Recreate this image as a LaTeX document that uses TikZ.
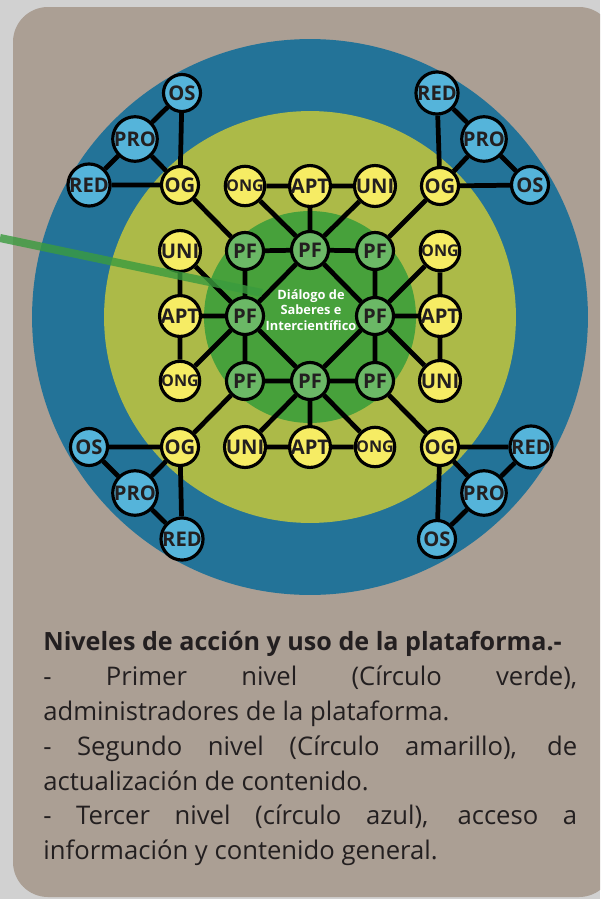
\documentclass[tikz,border=0pt]{standalone}
\usepackage{fontspec}
\setmainfont{Open Sans}
\usepackage{tikz}

\definecolor{pagegray}{HTML}{D1D1D1}
\definecolor{cardbrown}{HTML}{AB9F94}
\definecolor{ringblue}{HTML}{237398}
\definecolor{ringyellow}{HTML}{ACBA48}
\definecolor{ringgreen}{HTML}{47A13B}
\definecolor{pffill}{HTML}{6BB866}
\definecolor{ylwfill}{HTML}{F6EC64}
\definecolor{blufill}{HTML}{55B4DA}
\definecolor{inkdark}{HTML}{231F20}
\definecolor{pointgreen}{HTML}{3A9B3E}

\begin{document}
\begin{tikzpicture}[x=0.02cm, y=-0.02cm,
    dot/.style={circle, draw=black, line width=1.8pt, minimum size=0.74cm, inner sep=0pt,
      text=inkdark, font=\fontsize{11.5}{12}\selectfont\bfseries},
    pfdot/.style={dot, fill=pffill},
    ylwdot/.style={dot, fill=ylwfill},
    bludot/.style={dot, fill=blufill},
    ongtxt/.style={font=\fontsize{9.2}{10}\selectfont\bfseries},
    link/.style={line width=2.7pt},
    pointer/.style={line width=4.6pt, draw=pointgreen, opacity=0.8},
    infotext/.style={text width=10.68cm, align=justify, inner sep=0pt, text=inkdark,
      font=\fontsize{14.6}{19.85}\selectfont}]
        \useasboundingbox (0,0) rectangle (600,899);
        \clip (0,0) rectangle (600,899);
        \fill[pagegray] (0,0) rectangle (600,899);
        \fill[cardbrown, rounded corners=0.7cm] (13,7) rectangle (614,897);

        % the three levels
        \fill[ringblue] (310,317) circle (5.56cm);
        \fill[ringyellow] (310,317) circle (4.12cm);
        \fill[ringgreen] (310,317) circle (2.12cm);

        \node[text=white, font=\fontsize{7.3}{9}\selectfont\bfseries, align=center] (dialogo) at (311,310)
            {Diálogo de\\Saberes e\\Intercientífico};

        % first level
        \node[pfdot] (pf1) at (245,251) {PF};
        \node[pfdot] (pf2) at (310,250) {PF};
        \node[pfdot] (pf3) at (375,251) {PF};
        \node[pfdot] (pf4) at (245,316) {PF};
        \node[pfdot] (pf5) at (375,316) {PF};
        \node[pfdot] (pf6) at (245,381) {PF};
        \node[pfdot] (pf7) at (310,381) {PF};
        \node[pfdot] (pf8) at (375,381) {PF};

        % second level
        \node[ylwdot] (ogTL) at (180,185) {OG};
        \node[ylwdot, ongtxt] (ongT) at (245,186) {ONG};
        \node[ylwdot] (aptT) at (310,186) {APT};
        \node[ylwdot] (uniT) at (375,186) {UNI};
        \node[ylwdot] (ogTR) at (440,186) {OG};
        \node[ylwdot] (uniL) at (180,251) {UNI};
        \node[ylwdot] (aptL) at (180,316) {APT};
        \node[ylwdot, ongtxt] (ongL) at (180,381) {ONG};
        \node[ylwdot, ongtxt] (ongR) at (440,251) {ONG};
        \node[ylwdot] (aptR) at (440,316) {APT};
        \node[ylwdot] (uniR) at (440,381) {UNI};
        \node[ylwdot] (ogBL) at (180,447) {OG};
        \node[ylwdot] (uniB) at (245,447) {UNI};
        \node[ylwdot] (aptB) at (310,447) {APT};
        \node[ylwdot, ongtxt] (ongB) at (375,447) {ONG};
        \node[ylwdot] (ogBR) at (440,447) {OG};

        % third level
        \node[bludot] (osTL) at (182,93) {OS};
        \node[bludot] (proTL) at (135,139) {PRO};
        \node[bludot] (redTL) at (89,185) {RED};
        \node[bludot] (redTR) at (437,93) {RED};
        \node[bludot] (proTR) at (484,139) {PRO};
        \node[bludot] (osTR) at (530,185) {OS};
        \node[bludot] (osBL) at (89,447) {OS};
        \node[bludot] (proBL) at (135,493) {PRO};
        \node[bludot] (redBL) at (182,539) {RED};
        \node[bludot] (redBR) at (531,447) {RED};
        \node[bludot] (proBR) at (484,493) {PRO};
        \node[bludot] (osBR) at (437,539) {OS};

        % links
        \draw[link] (pf1) -- (pf2) -- (pf3) -- (pf5) -- (pf8) -- (pf7) -- (pf6) -- (pf4) -- (pf1);
        \draw[link] (pf2) -- (pf4) -- (pf7) -- (pf5) -- (pf2);
        \draw[link] (ongT) -- (aptT) -- (uniT) (ongT) -- (pf2) (aptT) -- (pf2) (uniT) -- (pf2);
        \draw[link] (uniL) -- (aptL) -- (ongL) (uniL) -- (pf4) (aptL) -- (pf4) (ongL) -- (pf4);
        \draw[link] (ongR) -- (aptR) -- (uniR) (ongR) -- (pf5) (aptR) -- (pf5) (uniR) -- (pf5);
        \draw[link] (uniB) -- (aptB) -- (ongB) (uniB) -- (pf7) (aptB) -- (pf7) (ongB) -- (pf7);
        \draw[link] (ogTL) -- (pf1) (ogTR) -- (pf3) (ogBL) -- (pf6) (ogBR) -- (pf8);
        \draw[link] (osTL) -- (proTL) -- (redTL) -- (ogTL) -- (osTL) (proTL) -- (ogTL);
        \draw[link] (redTR) -- (proTR) -- (osTR) -- (ogTR) -- (redTR) (proTR) -- (ogTR);
        \draw[link] (osBL) -- (proBL) -- (redBL) -- (ogBL) -- (osBL) (proBL) -- (ogBL);
        \draw[link] (redBR) -- (proBR) -- (osBR) -- (ogBR) -- (redBR) (proBR) -- (ogBR);

        \coordinate (tail) at (0,238);
        \coordinate (tip) at (262,293);
        \draw[pointer] (tail) -- (tip);

        \node[infotext, anchor=north west] (info) at (43,631) {%
            {\fontsize{14.3}{19.85}\selectfont\bfseries Niveles de acción y uso de la plataforma.-}\par
            - Primer nivel (Círculo verde),\linebreak administradores de la plataforma.\par
            - Segundo nivel (Círculo amarillo), de\linebreak actualización de contenido.\par
            - Tercer nivel (círculo azul), acceso a\linebreak información y contenido general.};
    \end{tikzpicture}
\end{document}
